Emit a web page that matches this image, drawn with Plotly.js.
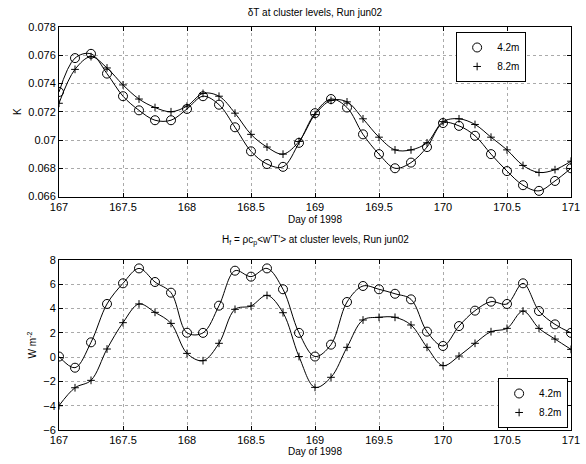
<!DOCTYPE html>
<html>
<head>
<meta charset="utf-8">
<script src="https://cdn.plot.ly/plotly-3.0.1.min.js"></script>
<style>html,body{margin:0;padding:0;background:#fff;}#chart{width:586px;height:464px;}</style>
</head>
<body>
<div id="chart"></div>
<script>
// Day of 1998, 3-hourly samples
const days = [167,167.125,167.25,167.375,167.5,167.625,167.75,167.875,
              168,168.125,168.25,168.375,168.5,168.625,168.75,168.875,
              169,169.125,169.25,169.375,169.5,169.625,169.75,169.875,
              170,170.125,170.25,170.375,170.5,170.625,170.75,170.875,171];

// deltaT (K)
const dT_42 = [0.0734,0.0758,0.0761,0.0747,0.0731,0.0721,0.0714,0.0714,
               0.0722,0.0731,0.0725,0.0709,0.0692,0.0683,0.0681,0.0698,
               0.0719,0.0729,0.0723,0.0704,0.0690,0.0680,0.0684,0.0695,
               0.0712,0.0710,0.0703,0.0690,0.0678,0.0668,0.0664,0.0671,0.0680];
const dT_82 = [0.0726,0.0750,0.0759,0.0751,0.0739,0.0729,0.0723,0.0720,
               0.0724,0.0733,0.0731,0.0719,0.0704,0.0695,0.0690,0.0699,
               0.0718,0.0728,0.0727,0.0715,0.0702,0.0693,0.0693,0.0698,
               0.0713,0.0715,0.0711,0.0702,0.0693,0.0682,0.0677,0.0679,0.0685];

// Heat flux Hf (W m^-2)
const Hf_42 = [0.05,-0.87,1.22,4.38,6.08,7.31,6.19,5.31,
               2.01,2.0,4.24,7.12,6.63,7.31,5.59,2.0,
               0.05,1.03,4.54,5.86,5.59,5.22,4.76,2.1,
               0.92,2.56,3.83,4.57,4.38,6.08,3.8,2.7,2.0];
const Hf_82 = [-4.0,-2.52,-1.91,0.67,2.84,4.38,3.69,2.78,
               0.31,-0.29,1.14,3.94,4.21,5.09,3.66,0.05,
               -2.49,-1.66,0.81,3.06,3.28,3.28,2.65,0.81,
               -0.7,0.09,1.14,2.1,2.37,3.8,2.37,1.49,0.64];

const legendNames = ['4.2m','8.2m'];
const xTicks = [167,167.5,168,168.5,169,169.5,170,170.5,171];
const xTickText = ['167','167.5','168','168.5','169','169.5','170','170.5','171'];
const yTicksTop = [0.066,0.068,0.07,0.072,0.074,0.076,0.078];
const yTickTextTop = ['0.066','0.068','0.07','0.072','0.074','0.076','0.078'];
const yTicksBot = [-6,-4,-2,0,2,4,6,8];

const FONT = 'Liberation Sans, Arial, Helvetica, sans-serif';

function lineTrace(y, xa, ya) {
  return {x: days, y: y, xaxis: xa, yaxis: ya, type: 'scatter', mode: 'lines',
          line: {color: '#000', width: 1, shape: 'spline', smoothing: 1}, showlegend: false, hoverinfo: 'skip'};
}
function markTrace(y, xa, ya, sym, name, leg) {
  return {x: days, y: y, xaxis: xa, yaxis: ya, type: 'scatter', mode: 'markers', name: name, legend: leg,
          marker: {symbol: sym, size: sym === 'circle-open' ? 9 : 5.5, color: '#000', line: {color: '#000', width: 1}}};
}

const data = [
  lineTrace(dT_42, 'x', 'y'), lineTrace(dT_82, 'x', 'y'),
  markTrace(dT_42, 'x', 'y', 'circle-open', legendNames[0], 'legend'),
  markTrace(dT_82, 'x', 'y', 'cross-thin-open', legendNames[1], 'legend'),
  lineTrace(Hf_42, 'x2', 'y2'), lineTrace(Hf_82, 'x2', 'y2'),
  markTrace(Hf_42, 'x2', 'y2', 'circle-open', legendNames[0], 'legend2'),
  markTrace(Hf_82, 'x2', 'y2', 'cross-thin-open', legendNames[1], 'legend2')
];

const axBase = {
  showline: true, linecolor: '#000', linewidth: 1, mirror: 'ticks',
  ticks: 'inside', ticklen: 4, tickcolor: '#000', tickwidth: 1,
  showgrid: true, gridcolor: '#aaa', griddash: 'dot', gridwidth: 1,
  zeroline: false, tickfont: {family: FONT, size: 11, color: '#000'},
  automargin: false
};

const legBase = {bordercolor: '#000', borderwidth: 1, bgcolor: '#fff',
  font: {family: FONT, size: 10, color: '#000'}, itemwidth: 30, tracegroupgap: 0};

const layout = {
  width: 586, height: 464,
  margin: {l: 59, r: 15, t: 27, b: 34},
  paper_bgcolor: '#fff', plot_bgcolor: '#fff',
  font: {family: FONT, size: 10, color: '#000'},
  title: {text: 'δT at cluster levels, Run jun02', font: {family: FONT, size: 10, color: '#000'},
          x: 0.5375, xanchor: 'center', y: 1 - 12/464, yanchor: 'middle'},
  xaxis: Object.assign({}, axBase, {domain: [0, 1], range: [167, 171], tickvals: xTicks, ticktext: xTickText, anchor: 'y',
          title: {text: 'Day of 1998', font: {family: FONT, size: 10}, standoff: 4}}),
  yaxis: Object.assign({}, axBase, {domain: [0.5794, 1], range: [0.066, 0.078], tickvals: yTicksTop, ticktext: yTickTextTop, anchor: 'x',
          title: {text: 'K', font: {family: FONT, size: 10}, standoff: 4}}),
  xaxis2: Object.assign({}, axBase, {domain: [0, 1], range: [167, 171], tickvals: xTicks, ticktext: xTickText, anchor: 'y2',
          title: {text: 'Day of 1998', font: {family: FONT, size: 10}, standoff: 2}}),
  yaxis2: Object.assign({}, axBase, {domain: [0, 0.4218], range: [-6, 8], tickvals: yTicksBot, anchor: 'x2',
          title: {text: 'W m<sup>-2</sup>', font: {family: FONT, size: 10}, standoff: 4}}),
  legend: Object.assign({}, legBase, {x: 0.844, y: 0.9256, xanchor: 'center', yanchor: 'middle'}),
  legend2: Object.assign({}, legBase, {x: 0.926, y: 0.005, xanchor: 'center', yanchor: 'bottom'}),
  annotations: [{text: 'H<sub>f</sub> = ρc<sub>p</sub>&lt;w\'T\'&gt; at cluster levels, Run jun02',
                 xref: 'paper', yref: 'paper', x: 0.5, y: 0.469, xanchor: 'center', yanchor: 'middle',
                 showarrow: false, font: {family: FONT, size: 10, color: '#000'}}]
};

Plotly.newPlot('chart', data, layout, {staticPlot: true, displayModeBar: false});
</script>
</body>
</html>
